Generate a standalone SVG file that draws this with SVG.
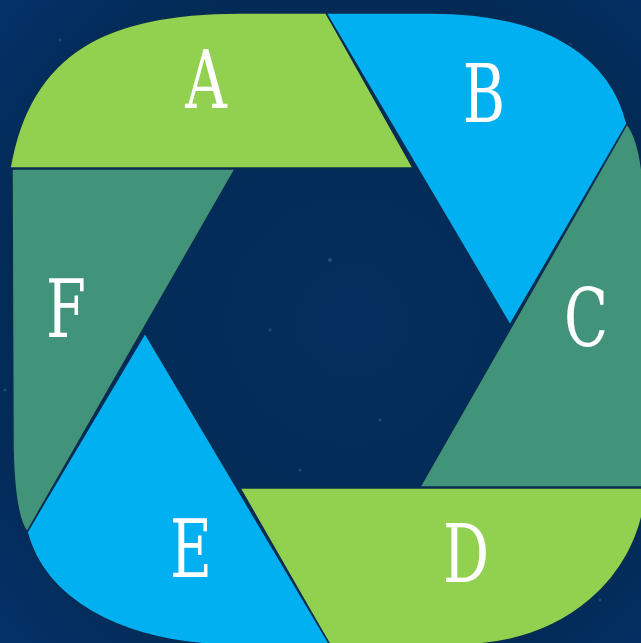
<svg xmlns="http://www.w3.org/2000/svg" width="641" height="643" viewBox="0 0 641 643">
  <defs>
    <radialGradient id="bg" cx="0.55" cy="0.5" r="0.75">
      <stop offset="0" stop-color="#052e5e"/>
      <stop offset="0.7" stop-color="#032a55"/>
      <stop offset="1" stop-color="#04326a"/>
    </radialGradient>
  </defs>
  <style>
    .green { fill: #92D050; }
    .blue { fill: #00B0F0; }
    .teal { fill: #41937A; }
    .seg { stroke: #0a2c50; stroke-width: 1.5; stroke-linejoin: round; }
    .lbl { font-family: "DejaVu Serif", "Liberation Serif", serif; font-size: 80px; fill: #ffffff; text-anchor: middle; }
  </style>
  <rect width="641" height="643" fill="url(#bg)"/>
  <g fill="#5a86c0" opacity="0.35">
    <circle cx="60" cy="40" r="1.5"/>
    <circle cx="270" cy="330" r="1.5"/>
    <circle cx="330" cy="260" r="2"/>
    <circle cx="380" cy="420" r="1.5"/>
    <circle cx="570" cy="45" r="2"/>
    <circle cx="300" cy="470" r="1.5"/>
    <circle cx="600" cy="600" r="1.5"/>
    <circle cx="5" cy="390" r="1.5"/>
  </g>

  <g id="node-A">
    <path class="seg green" d="M10,168 L413,168 L326,13 L240,13 C110,13 30,50 10,168 Z"/>
    <text class="lbl" transform="translate(206,108) scale(0.72,1)">A</text>
  </g>
  <g id="node-B">
    <path class="seg blue" d="M326,13 L430,13 C555,13 612,62 627,124 L510,325 Z"/>
    <text class="lbl" transform="translate(484,122) scale(0.72,1)">B</text>
  </g>
  <g id="node-C">
    <path class="seg teal" d="M627,124 C640,140 645,180 645,230 L645,487 L420,487 Z"/>
    <text class="lbl" transform="translate(586,346) scale(0.72,1)">C</text>
  </g>
  <g id="node-D">
    <path class="seg green" d="M240,488 L645,488 L645,500 C635,575 570,643 460,645 L330,645 Z"/>
    <text class="lbl" transform="translate(466,582) scale(0.72,1)">D</text>
  </g>
  <g id="node-E">
    <path class="seg blue" d="M145,333 L330,645 L220,645 C120,640 45,600 27,532 Z"/>
    <text class="lbl" transform="translate(191,577) scale(0.72,1)">E</text>
  </g>
  <g id="node-F">
    <path class="seg teal" d="M12,169 L235,169 L27,532 C18,520 14,490 13,450 L12,169 Z"/>
    <text class="lbl" transform="translate(66,337) scale(0.72,1)">F</text>
  </g>
  <g id="connectors"></g>
</svg>
